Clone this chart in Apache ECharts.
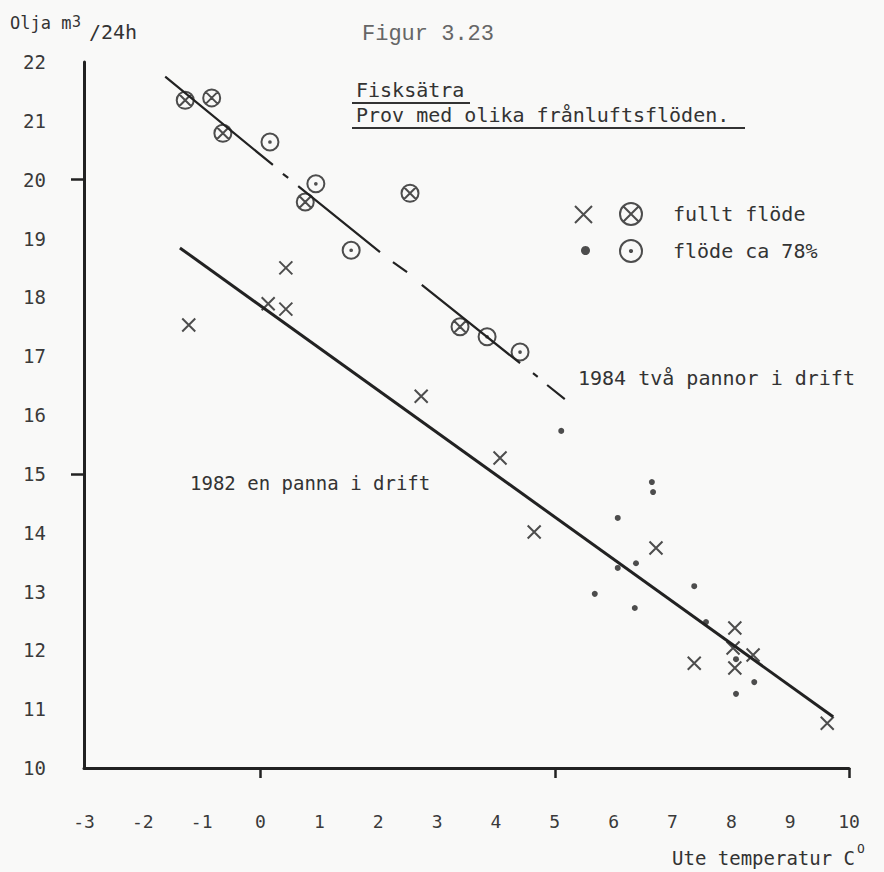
<!DOCTYPE html>
<html>
<head>
<meta charset="utf-8">
<title>Figur 3.23 Fisksätra</title>
<script src="https://cdn.jsdelivr.net/npm/echarts@6/dist/echarts.min.js"></script>
<style>
  html, body { margin: 0; padding: 0; background: #f9f9f8; }
  #chart { width: 884px; height: 872px; }
</style>
</head>
<body>
<div id="chart"></div>
<script>
// tick labels
var xTicks = [-3, -2, -1, 0, 1, 2, 3, 4, 5, 6, 7, 8, 9, 10];
var yTicks = [10, 11, 12, 13, 14, 15, 16, 17, 18, 19, 20, 21, 22];

// 1982 en panna i drift, fullt flöde (x)
var fullt1982 = [
  [-1.22, 17.53], [0.43, 18.50], [0.13, 17.89], [0.43, 17.80], [2.73, 16.32],
  [4.07, 15.27], [4.65, 14.01], [6.72, 13.74], [8.06, 12.38], [8.03, 12.04],
  [8.37, 11.92], [7.37, 11.78], [8.06, 11.70], [9.63, 10.76]
];
// 1982, flöde ca 78% (punkter)
var dela1982 = [
  [5.11, 15.73], [6.65, 14.86], [6.67, 14.69], [6.07, 14.25], [6.38, 13.48],
  [6.07, 13.40], [5.68, 12.96], [7.37, 13.09], [6.36, 12.72], [7.57, 12.48],
  [8.08, 11.85], [8.39, 11.46], [8.08, 11.26], [10.05, 10.66]
];
// 1984 två pannor i drift, fullt flöde (cirkel med kryss)
var fullt1984 = [
  [-1.28, 21.35], [-0.83, 21.39], [-0.64, 20.79], [0.76, 19.62], [2.54, 19.77],
  [3.39, 17.50]
];
// 1984, flöde ca 78% (cirkel med punkt)
var dela1984 = [
  [0.16, 20.64], [0.94, 19.93], [1.54, 18.80], [3.85, 17.33], [4.41, 17.07]
];

// handritade linjer
var linje1982 = [[-1.37, 18.84], [9.73, 10.87]];
var linje1984 = [
  [-1.62, 21.75], [0.21, 20.25], [null, null],
  [0.38, 20.10], [0.47, 20.03], [null, null],
  [0.64, 19.89], [2.03, 18.77], [null, null],
  [2.25, 18.60], [2.49, 18.43], [null, null],
  [2.74, 18.21], [4.41, 16.88], [null, null],
  [4.63, 16.71], [4.71, 16.65], [null, null],
  [4.87, 16.51], [5.17, 16.27]
];

var ink = '#222';
var mono = '"DejaVu Sans Mono", monospace';

var crossPath = 'path://M0,0L10,10M10,0L0,10';
var ringCross = 'path://M0,10A10,10,0,1,1,20,10A10,10,0,1,1,0,10ZM2.93,2.93L17.07,17.07M17.07,2.93L2.93,17.07';
var ringDot = 'path://M0,10A10,10,0,1,1,20,10A10,10,0,1,1,0,10ZM9,10A1,1,0,1,1,11,10A1,1,0,1,1,9,10Z';

var chart = echarts.init(document.getElementById('chart'), null, { renderer: 'svg' });

var option = {
  backgroundColor: '#f9f9f8',
  animation: false,
  grid: { left: 84, right: 35, top: 62, bottom: 104 },
  xAxis: {
    type: 'value', min: -3, max: 10, interval: 1,
    axisLine: { onZero: false, lineStyle: { color: ink, width: 3 } },
    axisTick: { show: true, customValues: [0, 5, 10], length: 10, lineStyle: { color: ink, width: 2.5 } },
    axisLabel: { customValues: xTicks, margin: 44, color: '#3a3a3a', fontFamily: mono, fontSize: 18 },
    splitLine: { show: false }
  },
  yAxis: [
    {
      type: 'value', min: 10, max: 22, interval: 1,
      axisLine: { show: true, onZero: false, lineStyle: { color: ink, width: 3 } },
      axisTick: { show: false },
      axisLabel: { customValues: yTicks, margin: 38, color: '#3a3a3a', fontFamily: mono, fontSize: 19 },
      splitLine: { show: false }
    },
    {
      // bara strecken vid 15 och 20
      type: 'value', min: 10, max: 22, interval: 1, position: 'left',
      axisLine: { show: true, onZero: false, lineStyle: { color: 'rgba(0,0,0,0)' } },
      axisTick: { show: true, customValues: [15, 20], length: 13, lineStyle: { color: ink, width: 2.5 } },
      axisLabel: { show: false },
      splitLine: { show: false }
    }
  ],
  legend: [
    {
      data: ['1982 fullt flöde'], left: 569, top: 200, itemWidth: 17, itemHeight: 17,
      formatter: function () { return ''; }, selectedMode: false
    },
    {
      data: ['1982 flöde ca 78%'], left: 576, top: 241, itemWidth: 9, itemHeight: 9,
      formatter: function () { return ''; }, selectedMode: false
    },
    {
      data: ['fullt flöde', 'flöde ca 78%'], orient: 'vertical', left: 614, top: 197,
      itemWidth: 74, itemHeight: 22, itemGap: 13, selectedMode: false,
      textStyle: { color: '#333', fontFamily: mono, fontSize: 20 }
    }
  ],
  graphic: [
    { type: 'text', x: 10, y: 23, style: { text: 'Olja m', fill: '#333', font: '17px ' + mono, verticalAlign: 'middle' } },
    { type: 'text', x: 72, y: 22, style: { text: '3', fill: '#333', font: '15px ' + mono, verticalAlign: 'middle' } },
    { type: 'text', x: 89, y: 32, style: { text: '/24h', fill: '#333', font: '20px ' + mono, verticalAlign: 'middle' } },
    { type: 'text', x: 362, y: 34, style: { text: 'Figur 3.23', fill: '#666', font: '22px "Liberation Mono", monospace', verticalAlign: 'middle' } },
    { type: 'text', x: 356, y: 90, style: { text: 'Fisksätra', fill: '#333', font: '20px ' + mono, verticalAlign: 'middle' } },
    { type: 'line', shape: { x1: 352, y1: 103, x2: 470, y2: 103 }, style: { stroke: '#333', lineWidth: 2 } },
    { type: 'text', x: 356, y: 115, style: { text: 'Prov med olika frånluftsflöden.', fill: '#333', font: '20px ' + mono, verticalAlign: 'middle' } },
    { type: 'line', shape: { x1: 352, y1: 128, x2: 745, y2: 128 }, style: { stroke: '#333', lineWidth: 2 } },
    { type: 'text', x: 578, y: 378, style: { text: '1984 två pannor i drift', fill: '#333', font: '20px ' + mono, verticalAlign: 'middle' } },
    { type: 'text', x: 190, y: 483, style: { text: '1982 en panna i drift', fill: '#333', font: '19px ' + mono, verticalAlign: 'middle' } },
    { type: 'text', x: 672, y: 858, style: { text: 'Ute temperatur C', fill: '#333', font: '19px ' + mono, verticalAlign: 'middle' } },
    { type: 'text', x: 857, y: 848, style: { text: 'O', fill: '#333', font: '13px ' + mono, verticalAlign: 'middle' } }
  ],
  series: [
    {
      name: 'linje 1982', type: 'line', data: linje1982, showSymbol: false, silent: true,
      lineStyle: { color: ink, width: 3 }, z: 2
    },
    {
      name: 'linje 1984', type: 'line', data: linje1984, showSymbol: false, silent: true,
      connectNulls: false, lineStyle: { color: ink, width: 2.2 }, z: 2
    },
    {
      name: '1982 fullt flöde', type: 'scatter', data: fullt1982, symbol: crossPath, symbolSize: 13,
      itemStyle: { color: 'rgba(0,0,0,0)', borderColor: ink, borderWidth: 2 }, z: 3
    },
    {
      name: '1982 flöde ca 78%', type: 'scatter', data: dela1982, symbol: 'circle', symbolSize: 6,
      itemStyle: { color: ink }, z: 3
    },
    {
      name: 'fullt flöde', type: 'scatter', data: fullt1984, symbol: ringCross, symbolSize: 17,
      itemStyle: { color: 'rgba(0,0,0,0)', borderColor: ink, borderWidth: 2 }, z: 3
    },
    {
      name: 'flöde ca 78%', type: 'scatter', data: dela1984, symbol: ringDot, symbolSize: 17,
      itemStyle: { color: 'rgba(0,0,0,0)', borderColor: ink, borderWidth: 2 }, z: 3
    }
  ]
};

chart.setOption(option);
</script>
</body>
</html>
